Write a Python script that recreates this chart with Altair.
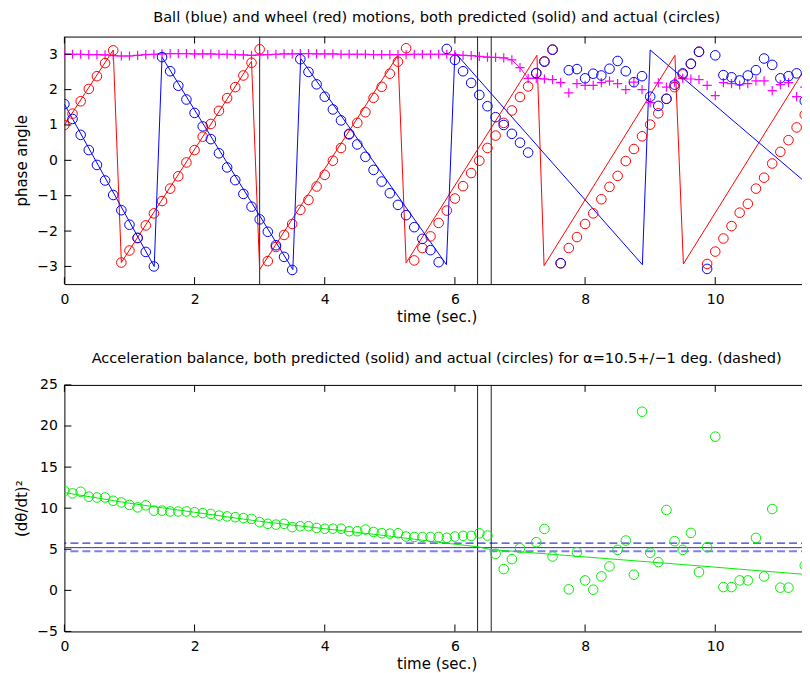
import altair as alt
import pandas as pd

# ---------------- data ----------------
DT = 0.125  # sampling interval (s)

wheel_obs = [1.0, 1.32, 1.67, 2.02, 2.38, 2.75, 3.11, -2.89, -2.55, -2.2,
             -1.84, -1.5, -1.15, -0.8, -0.45, -0.06, 0.29, 0.67, 1.03, 1.4,
             1.76, 2.07, 2.4, 2.76, 3.14, -2.85, -2.45, -2.11, -1.8, -1.4,
             -1.12, -0.74, -0.41, -0.01, 0.35, 0.73, 1.06, 1.36, 1.77, 2.08,
             2.45, 2.79, 3.17, -2.83, -2.48, -2.15, -1.77, -1.42, -1.08, -0.73,
             -0.36, -0.01, 0.35, 0.7, 1.06, 1.41, 1.79, 2.09, 2.47, 2.8,
             3.13, -2.91, -2.48, -2.17, -1.8, -1.5, -1.1, -0.75, -0.44, -0.02,
             0.32, 0.68, 1.01, 1.33, 1.74, 2.07, 2.43, 2.73, 3.07, -2.93,
             -2.58, -2.21, -1.86, -1.48, -1.23, -0.8, -0.49, -0.09, 0.24, 0.57,
             0.93, 1.29]

ball_obs = [1.59, 1.17, 0.72, 0.29, -0.13, -0.57, -0.98, -1.41, -1.82, -2.19,
            -2.59, -3.0, 2.92, 2.52, 2.11, 1.72, 1.34, 0.96, 0.6, 0.2,
            -0.2, -0.56, -0.95, -1.31, -1.67, -2.02, -2.4, -2.73, -3.1, 2.86,
            2.5, 2.15, 1.8, 1.44, 1.13, 0.75, 0.45, 0.1, -0.27, -0.6,
            -0.93, -1.26, -1.55, -1.89, -2.22, -2.54, -2.88, 3.15, 2.84, 2.52,
            2.19, 1.85, 1.53, 1.22, 1.0, 0.75, 0.5, 0.22, 2.46, 2.79,
            3.13, -2.91, 2.55, 2.58, 2.32, 2.45, 2.4, 2.59, 2.81, 2.52,
            2.21, 2.38, 1.8, 1.54, 1.74, 2.14, 2.46, 2.73, 3.07, -3.07,
            2.97, 2.41, 2.35, 2.26, 2.4, 2.55, 2.88, 2.7, 2.32, 2.38,
            2.46, 1.68]

marker_obs = [3.0, 3.0, 3.0, 2.99, 2.99, 2.98, 2.96, 2.95, 2.95, 2.97,
              2.99, 3.0, 3.01, 3.02, 3.02, 3.02, 3.01, 3.01, 3.01, 3.0,
              3.0, 2.99, 2.98, 2.97, 2.98, 2.99, 3.0, 3.01, 3.01, 3.02,
              3.02, 3.01, 3.01, 3.01, 3.0, 3.0, 3.0, 3.0, 2.99, 2.99,
              2.99, 2.99, 2.99, 3.0, 3.0, 3.0, 3.0, 3.0, 2.99, 2.97,
              2.96, 2.94, 2.92, 2.91, 2.9, 2.84, 2.62, 2.32, 2.32, 2.3,
              2.28, 2.2, 1.91, 2.17, 2.12, 2.12, 2.2, 2.24, 2.17, 2.0,
              2.21, 2.0, 1.63, 2.19, 2.07, 2.21, 2.32, 2.3, 2.28, 2.12,
              1.83, 2.2, 2.17, 2.13, 2.17, 2.25, 2.25, 1.97, 2.14, 2.2,
              1.8, 2.07]
MARKER_LINE_END = 7.5  # the '+' trace is joined by a line up to here

accel_obs = [12.1, 11.8, 12.0, 11.4, 11.3, 11.3, 10.9, 10.7, 10.4, 10.1,
             10.35, 9.7, 9.7, 9.6, 9.6, 9.6, 9.5, 9.4, 9.3, 9.1,
             9.0, 8.9, 8.8, 8.7, 8.3, 8.1, 8.0, 8.1, 7.7, 7.8,
             7.8, 7.6, 7.5, 7.5, 7.5, 7.2, 7.2, 7.4, 7.1, 6.95,
             6.9, 6.95, 6.55, 6.5, 6.5, 6.5, 6.5, 6.4, 6.55, 6.63,
             6.63, 6.95, 6.67, 4.45, 2.59, 3.8, 5.13, None, 5.86, 7.47,
             4.12, None, 0.12, 4.65, 1.21, 0.08, 1.7, 2.91, 4.93, 6.06,
             1.9, 21.74, 4.57, 3.44, 9.78, 5.98, 4.93, 6.99, 2.22, 5.25,
             18.7, 0.4, 0.4, 1.21, 1.21, 6.38, 1.7, 9.9, 0.33, 0.33,
             None, 3.03, 2.1]

# predicted (solid) traces, as vertices (time, value)
wheel_pred_t = [0.0, 0.75, 0.875, 2.875, 3.0, 5.125, 5.25, 7.26, 7.37, 9.38, 9.51, 11.5]
wheel_pred_v = [1.0, 3.12, -2.89, 2.8, -3.09, 2.97, -2.9, 2.97, -2.98, 2.97, -2.93, 2.95]

ball_pred_t = [0.0, 1.38, 1.5, 3.51, 3.63, 5.87, 6.0, 8.88, 9.0, 11.5]
ball_pred_v = [1.59, -3.0, 2.92, -3.09, 2.88, -2.95, 3.05, -2.95, 3.12, -0.8]

accel_pred_t = [0.0, 1.0, 2.0, 3.0, 4.0, 5.0, 5.75, 6.35, 6.55, 7.5, 8.5, 9.5, 10.5, 11.5]
accel_pred_v = [11.9, 10.6, 9.5, 8.4, 7.5, 6.6, 5.85, 5.3, 4.97, 4.38, 3.76, 3.14, 2.5, 1.87]

# reference levels (bottom panel)
level_vals = [5.75, 5.2, 4.75]
level_names = ["upper", "nominal", "lower"]

# vertical event markers
top_events = [3.0, 6.348, 6.558]
bottom_events = [6.348, 6.558]

X_TICKS = [0, 2, 4, 6, 8, 10]
TOP_Y_TICKS = [-3, -2, -1, 0, 1, 2, 3]
BOT_Y_TICKS = [-5, 0, 5, 10, 15, 20, 25]
X_DOMAIN = [0, 11.44]
TOP_Y_DOMAIN = [-3.5, 3.5]
BOT_Y_DOMAIN = [-5, 25]

TITLE_TOP = "Ball (blue) and wheel (red) motions, both predicted (solid) and actual (circles)"
TITLE_BOT = "Acceleration balance, both predicted (solid) and actual (circles) for \u03b1=10.5+/\u22121 deg. (dashed)"

# ---------------- styling ----------------
W = 746
H1 = 248
H2 = 247
FONT = "DejaVu Sans"
TICK_LEN = 7
CIRCLE_SIZE = 92
PLUS = "M-1,0L1,0M0,-1L0,1"

n = len(wheel_obs)
times = [round(i * DT, 4) for i in range(len(accel_obs))]

wheel_df = pd.DataFrame({"t": times[:n], "v": wheel_obs})
ball_df = pd.DataFrame({"t": times[:n], "v": ball_obs})
marker_df = pd.DataFrame({"t": times[:n], "v": marker_obs})
marker_line_df = marker_df[marker_df["t"] <= MARKER_LINE_END]
accel_df = pd.DataFrame({"t": times, "v": accel_obs}).dropna()
wheel_pred_df = pd.DataFrame({"t": wheel_pred_t, "v": wheel_pred_v, "k": range(len(wheel_pred_t))})
ball_pred_df = pd.DataFrame({"t": ball_pred_t, "v": ball_pred_v, "k": range(len(ball_pred_t))})
accel_pred_df = pd.DataFrame({"t": accel_pred_t, "v": accel_pred_v, "k": range(len(accel_pred_t))})


def X(title="time (sec.)"):
    return alt.X("t:Q", scale=alt.Scale(domain=X_DOMAIN, nice=False, zero=False),
                 axis=alt.Axis(values=X_TICKS, format="d", title=title))


def Y(domain, ticks, title):
    return alt.Y("v:Q", scale=alt.Scale(domain=domain, nice=False, zero=False),
                 axis=alt.Axis(values=ticks, format="d", title=title))


def tick_layers(domain, ticks, title, H):
    xt = pd.DataFrame({"t": X_TICKS})
    yt = pd.DataFrame({"v": ticks})
    base_x = alt.Chart(xt).mark_rule(color="black", strokeWidth=1)
    base_y = alt.Chart(yt).mark_rule(color="black", strokeWidth=1)
    return [
        base_x.encode(x=X(), y=alt.value(H), y2=alt.value(H - TICK_LEN)),
        base_x.encode(x=X(), y=alt.value(0), y2=alt.value(TICK_LEN)),
        base_y.encode(y=Y(domain, ticks, title), x=alt.value(0), x2=alt.value(TICK_LEN)),
        base_y.encode(y=Y(domain, ticks, title), x=alt.value(W), x2=alt.value(W - TICK_LEN)),
    ]


# ---------------- top panel ----------------
ty = (TOP_Y_DOMAIN, TOP_Y_TICKS, "phase angle")

top_events_layer = alt.Chart(pd.DataFrame({"t": top_events})).mark_rule(
    color="#222222", strokeWidth=1).encode(x=X())

wheel_line = alt.Chart(wheel_pred_df).mark_line(color="#ff0000", strokeWidth=1, clip=True).encode(
    x=X(), y=Y(*ty), order="k:Q")
ball_line = alt.Chart(ball_pred_df).mark_line(color="#0000ff", strokeWidth=1, clip=True).encode(
    x=X(), y=Y(*ty), order="k:Q")
marker_line = alt.Chart(marker_line_df).mark_line(color="#ff00ff", strokeWidth=1, clip=True).encode(
    x=X(), y=Y(*ty))
marker_pts = alt.Chart(marker_df).mark_point(shape=PLUS, size=85, color="#ff00ff", strokeWidth=1.2,
                                              filled=False, opacity=1, clip=True).encode(x=X(), y=Y(*ty))
wheel_pts = alt.Chart(wheel_df).mark_point(shape="circle", size=CIRCLE_SIZE, color="#ff0000", strokeWidth=1,
                                            filled=False, opacity=1, clip=True).encode(x=X(), y=Y(*ty))
ball_pts = alt.Chart(ball_df).mark_point(shape="circle", size=CIRCLE_SIZE, color="#0000ff", strokeWidth=1,
                                          filled=False, opacity=1, clip=True).encode(x=X(), y=Y(*ty))

top = alt.layer(top_events_layer, wheel_line, ball_line, marker_line, marker_pts, wheel_pts, ball_pts,
                *tick_layers(*ty, H1)).properties(width=W, height=H1, title=TITLE_TOP)

# ---------------- bottom panel ----------------
by = (BOT_Y_DOMAIN, BOT_Y_TICKS, "(d\u03b8/dt)\u00b2")

bottom_events_layer = alt.Chart(pd.DataFrame({"t": bottom_events})).mark_rule(
    color="#222222", strokeWidth=1).encode(x=X())

lv = pd.DataFrame({"v": level_vals, "name": level_names})
upper_rule = alt.Chart(lv[lv["name"] == "upper"]).mark_rule(
    color="#0000cc", strokeWidth=1, strokeDash=[8, 4]).encode(y=Y(*by))
nominal_rule = alt.Chart(lv[lv["name"] == "nominal"]).mark_rule(
    color="#2a2aff", strokeWidth=1).encode(y=Y(*by))
lower_rule = alt.Chart(lv[lv["name"] == "lower"]).mark_rule(
    color="#7f7ff2", strokeWidth=2, strokeDash=[8, 4]).encode(y=Y(*by))

accel_line = alt.Chart(accel_pred_df).mark_line(color="#00ee00", strokeWidth=1, clip=True).encode(
    x=X(), y=Y(*by), order="k:Q")
accel_pts = alt.Chart(accel_df).mark_point(shape="circle", size=CIRCLE_SIZE, color="#00ee00", strokeWidth=1,
                                            filled=False, opacity=1, clip=True).encode(x=X(), y=Y(*by))

bottom = alt.layer(bottom_events_layer, upper_rule, nominal_rule, lower_rule, accel_line, accel_pts,
                   *tick_layers(*by, H2)).properties(width=W, height=H2, title=TITLE_BOT)

chart = alt.vconcat(top, bottom, spacing=25).properties(
    padding={"left": 6.5, "top": 0, "right": -9, "bottom": 0}
).configure_view(
    stroke="black", strokeWidth=1
).configure_axis(
    grid=False, ticks=False, domain=False, labelFlush=False,
    labelFont=FONT, labelFontSize=14, labelColor="black",
    titleFont=FONT, titleFontSize=15, titleFontWeight="normal", titleColor="black",
).configure_axisY(
    labelPadding=7, titlePadding=10.5, minExtent=24, maxExtent=24,
).configure_axisX(
    labelPadding=8, titlePadding=3,
).configure_title(
    font=FONT, fontSize=14.6, fontWeight="normal", color="black", anchor="middle", offset=12,
)

chart.save("out.html", embed_options={"renderer": "svg", "actions": False})
